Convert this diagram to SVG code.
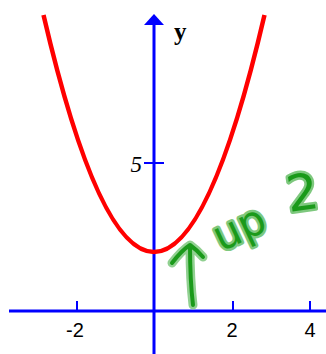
<svg xmlns="http://www.w3.org/2000/svg" width="326" height="354" viewBox="0 0 326 354">
<style>
.axis{stroke:#0000ff;stroke-width:3;fill:none}
.tick{stroke:#0000ff;stroke-width:2;fill:none}
.lbl{font-family:"Liberation Sans",Arial,sans-serif;font-size:20px;fill:#000;text-anchor:middle}
.halo{stroke:#7ec87e;stroke-width:9;fill:none;stroke-linecap:round;stroke-linejoin:round;opacity:0.85}
.ink{stroke:#1a9a1a;stroke-width:4;fill:none;stroke-linecap:round;stroke-linejoin:round}
.hand{font-family:"DejaVu Sans","Liberation Sans",sans-serif;fill:#1a9a1a;stroke:#7ec87e;stroke-width:5;paint-order:stroke;stroke-linejoin:round}
</style>
<rect width="326" height="354" fill="#ffffff"/>
<g id="axes">
<line class="axis" x1="9" y1="311" x2="326" y2="311"/>
<line class="axis" x1="154" y1="24" x2="154" y2="354"/>
<polygon points="154,14 144,25 164,25" fill="#0000ff"/>
<line class="tick" x1="77" y1="301" x2="77" y2="311"/>
<line class="tick" x1="233" y1="301" x2="233" y2="311"/>
<line class="tick" x1="310" y1="301" x2="310" y2="311"/>
<line class="tick" x1="144" y1="163" x2="164" y2="163"/>
</g>
<g id="labels">
<text class="lbl" x="75" y="337">-2</text>
<text class="lbl" x="232" y="337">2</text>
<text class="lbl" x="310" y="337">4</text>
<text x="142" y="172" font-family="'Liberation Serif',serif" font-style="italic" font-size="23" text-anchor="end">5</text>
<text x="174" y="40" font-family="'Liberation Serif',serif" font-weight="bold" font-size="25">y</text>
</g>
<g id="curve">
<path d="M43.5,15 Q154,489 264.5,15" fill="none" stroke="#ff0000" stroke-width="4.5"/>
</g>
<g id="annotation">
<path class="halo" d="M172,263 Q182,250 190,245 Q197,250 203,257 M190,246 Q190,280 193,305"/>
<path class="ink" d="M172,263 Q182,250 190,245 Q197,250 203,257 M190,246 Q190,280 193,305"/>
<text class="hand" font-size="42" transform="translate(221,252) rotate(-25)">up</text>
<text class="hand" font-size="50" transform="translate(289,212) rotate(-8)">2</text>
</g>
</svg>
